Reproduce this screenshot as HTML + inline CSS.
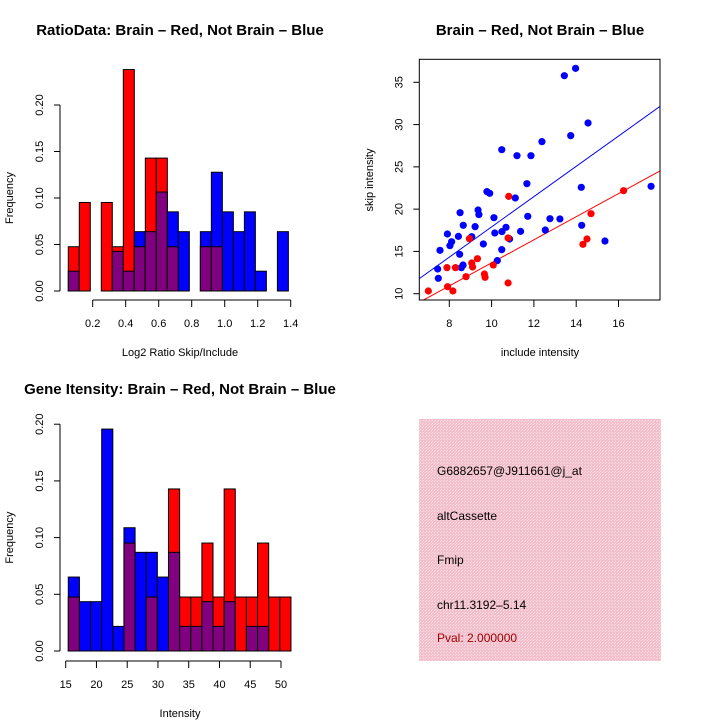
<!DOCTYPE html>
<html><head><meta charset="utf-8"><style>
body{margin:0;background:#fff;width:720px;height:720px;overflow:hidden}
svg{font-family:"Liberation Sans",sans-serif}
.t{font-size:11px}
.ti{font-size:15px;font-weight:bold}
</style></head><body>
<svg id="c" width="720" height="720" viewBox="0 0 720 720" xmlns="http://www.w3.org/2000/svg">
<defs>
<pattern id="pk" width="3" height="3" patternUnits="userSpaceOnUse"><rect width="3" height="3" fill="#f4bfcc"/><rect x="0" y="0" width="1" height="1" fill="#f8dde3"/><rect x="2" y="1" width="1" height="1" fill="#f8dde3"/></pattern>
</defs>
<g id="p1"></g>
<g id="p2"></g>
<g id="p3"></g>
<g>
<rect x="419" y="419" width="242" height="242" fill="url(#pk)"/>
<text x="437" y="475" font-size="12">G6882657@J911661@j_at</text>
<text x="437" y="520" font-size="12">altCassette</text>
<text x="437" y="564" font-size="12">Fmip</text>
<text x="437" y="609" font-size="12">chr11.3192–5.14</text>
<text x="437" y="642" font-size="12" fill="#a00000">Pval: 2.000000</text>
</g>
</svg>
<script>
// ---- Ratio histogram data ----
const ratioBinStart = 0.052, ratioBinWidth = 0.0667;
const ratioRed  = [0.0476,0.0952,0,0.0952,0.0476,0.2381,0.0476,0.1429,0.1429,0.0476,0,0,0.0476,0.0476,0,0,0,0,0,0];
const ratioBlue = [0.0213,0,0,0,0.0426,0.0213,0.0638,0.0638,0.1064,0.0851,0.0638,0,0.0638,0.1277,0.0851,0.0638,0.0851,0.0213,0,0.0638];
const ratioXTicks = ["0.2","0.4","0.6","0.8","1.0","1.2","1.4"];
const ratioYTicks = ["0.00","0.05","0.10","0.15","0.20"];
// ---- Intensity histogram data ----
const intBinStart = 15.42, intBinWidth = 1.81;
const intRed  = [0.0476,0,0,0,0,0.0952,0,0.0476,0,0.1429,0.0476,0.0476,0.0952,0.0476,0.1429,0.0476,0.0476,0.0952,0.0476,0.0476];
const intBlue = [0.0652,0.0435,0.0435,0.1957,0.0217,0.1087,0.087,0.087,0.0652,0.087,0.0217,0.0217,0.0435,0.0217,0.0435,0,0.0217,0.0217,0,0];
const intXTicks = ["15","20","25","30","35","40","45","50"];
const intYTicks = ["0.00","0.05","0.10","0.15","0.20"];
// ---- Scatter data ----
const blueX = [13.97,13.44,14.56,13.74,12.38,10.48,11.20,11.86,11.67,14.24,17.54,9.78,9.91,11.12,8.51,9.36,9.40,10.11,11.71,12.76,13.23,8.66,9.22,10.68,7.91,8.43,9.06,10.15,10.49,11.37,12.54,14.26,8.11,8.03,10.85,9.61,7.56,10.48,15.36,8.49,8.65,8.57,10.27,7.45,7.48];
const blueY = [36.65,35.78,30.19,28.69,27.98,27.03,26.32,26.32,23.01,22.58,22.70,22.07,21.87,21.32,19.58,19.90,19.35,18.99,19.15,18.87,18.84,18.09,17.93,17.85,17.06,16.78,16.74,17.18,17.34,17.37,17.53,18.09,16.15,15.68,16.47,15.88,15.13,15.21,16.23,14.66,13.39,13.08,13.91,12.92,11.82];
const redX = [10.81,8.95,10.78,16.24,14.70,14.51,14.32,9.33,9.06,9.10,10.08,7.89,8.29,8.79,9.66,9.69,10.78,7.92,8.17,7.01];
const redY = [21.51,16.51,16.59,22.18,19.46,16.47,15.84,14.14,13.63,13.16,13.39,13.08,13.08,12.01,12.33,11.94,11.27,10.83,10.32,10.32];
const fitSlopes = [1.79,1.365];
const fitIntercepts = [0,0];
const scXTicks = [8,10,12,14,16];
const scYTicks = [10,15,20,25,30,35];

const NS="http://www.w3.org/2000/svg";
function mk(parent,tag,attrs){const e=document.createElementNS(NS,tag);for(const k in attrs)e.setAttribute(k,attrs[k]);parent.appendChild(e);return e;}
function txt(parent,x,y,s,cls,rot,anchor){const e=mk(parent,'text',{x:x,y:y,'class':cls,'text-anchor':anchor||'middle'});if(rot)e.setAttribute('transform','rotate(-90 '+x+' '+y+')');e.textContent=s;return e;}

function hist(g,red,blue,b0,bw,sx,sy,xt,yt,xAxisY,xr,yAxisX,title,xlabel,titleY,xlabY){
  for(let i=0;i<red.length;i++){
    const x0=sx(b0+i*bw), x1=sx(b0+(i+1)*bw);
    const r=red[i], b=blue[i];
    const hi=Math.max(r,b), lo=Math.min(r,b);
    if(hi>0){
      const e=mk(g,'rect',{x:x0,y:sy(hi),width:x1-x0,height:sy(0)-sy(hi),fill:r>=b?'#ff0000':'#0000ff',stroke:'#000','stroke-width':1});
      
      
    }
    if(lo>0){
      const e=mk(g,'rect',{x:x0,y:sy(lo),width:x1-x0,height:sy(0)-sy(lo),fill:'#800080',stroke:'#000','stroke-width':1});
      
      
    }
  }
  const yv=yt.map(Number);
  const ya=mk(g,'line',{x1:yAxisX,x2:yAxisX,y1:sy(yv[0]),y2:sy(yv[yv.length-1]),stroke:'#000'});
  
  
  yt.forEach(s=>{const y=sy(Number(s));mk(g,'line',{x1:yAxisX-6,x2:yAxisX,y1:y,y2:y,stroke:'#000'});
    const t=txt(g,yAxisX-17,y,s,'t',true);
    
    });
  const xv=xt.map(Number);
  const xa=mk(g,'line',{x1:sx(xv[0]),x2:sx(xv[xv.length-1]),y1:xAxisY,y2:xAxisY,stroke:'#000'});
  
  
  xt.forEach(s=>{const x=sx(Number(s));mk(g,'line',{x1:x,x2:x,y1:xAxisY,y2:xAxisY+7,stroke:'#000'});
    const t=txt(g,x,xAxisY+27,s,'t');
    
    });
  const ti=txt(g,180,titleY,title,'ti');
  
  
  const xl=txt(g,180,xlabY,xlabel,'t');
  
  
  const yl=txt(g,13,(sy(0)+sy(yv[yv.length-1]))/2,'Frequency','t',true);
  
  
}

const g1=document.getElementById('p1');
hist(g1,ratioRed,ratioBlue,ratioBinStart,ratioBinWidth,v=>92.7+(v-0.2)*165,v=>291-v*930,ratioXTicks,ratioYTicks,300,null,60,'RatioData: Brain – Red, Not Brain – Blue','Log2 Ratio Skip/Include',35,356);
const g3=document.getElementById('p3');
hist(g3,intRed,intBlue,intBinStart,intBinWidth,v=>65.7+(v-15)*6.151,v=>651-v*1134,intXTicks,intYTicks,661,null,60,'Gene Itensity: Brain – Red, Not Brain – Blue','Intensity',394,717);

const g2=document.getElementById('p2');
const sxs=v=>449.3+(v-8)*21.15, sys=v=>293.7-(v-10)*8.456;
const X0=419.3,X1=660,Y0=59.3,Y1=300;
const clip=mk(g2,'clipPath',{id:'scclip'});mk(clip,'rect',{x:X0,y:Y0,width:X1-X0,height:Y1-Y0});
const xmin=8+(X0-449.3)/21.15, xmax=8+(X1-449.3)/21.15;
['#0000ff','#ff0000'].forEach((c,k)=>{
  const l=mk(g2,'line',{x1:sxs(xmin),y1:sys(fitIntercepts[k]+fitSlopes[k]*xmin),x2:sxs(xmax),y2:sys(fitIntercepts[k]+fitSlopes[k]*xmax),stroke:c,'stroke-width':1,'clip-path':'url(#scclip)'});
  
  
});
blueX.forEach((x,i)=>{const e=mk(g2,'circle',{cx:sxs(x),cy:sys(blueY[i]),r:3.6,fill:'#0000ff'});
  
  });
redX.forEach((x,i)=>{const e=mk(g2,'circle',{cx:sxs(x),cy:sys(redY[i]),r:3.6,fill:'#ff0000'});
  
  });
const box=mk(g2,'rect',{x:X0,y:Y0,width:X1-X0,height:Y1-Y0,fill:'none',stroke:'#000'});


scXTicks.forEach(v=>{const x=sxs(v);mk(g2,'line',{x1:x,x2:x,y1:Y1,y2:Y1+7,stroke:'#000'});
  const t=txt(g2,x,Y1+27,String(v),'t');
  
  });
scYTicks.forEach(v=>{const y=sys(v);mk(g2,'line',{x1:X0-6,x2:X0,y1:y,y2:y,stroke:'#000'});
  const t=txt(g2,X0-17,y,String(v),'t',true);
  
  });
const st=txt(g2,540,35,'Brain – Red, Not Brain – Blue','ti');


const sxl=txt(g2,540,356,'include intensity','t');


const syl=txt(g2,373,180,'skip intensity','t',true);


</script>
</body></html>
